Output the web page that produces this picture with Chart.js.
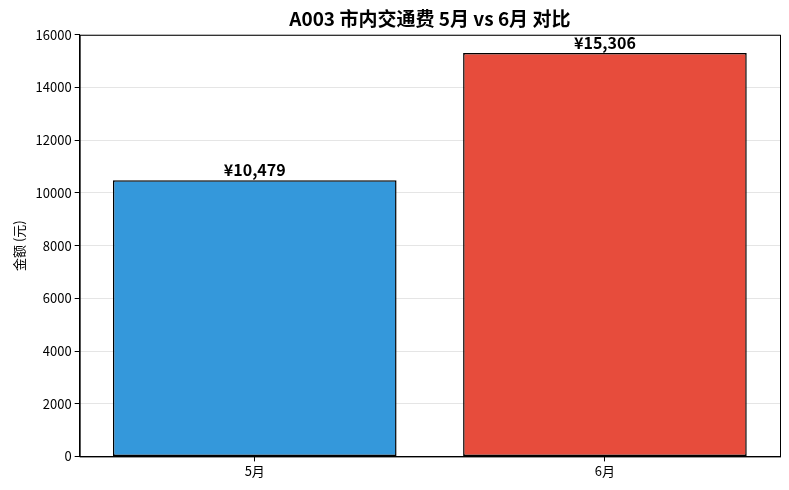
<!DOCTYPE html>
<html>
<head>
<meta charset="utf-8">
<script src="https://cdn.jsdelivr.net/npm/chart.js@4/dist/chart.umd.min.js"></script>
<style>
  html, body { margin: 0; padding: 0; background: #fff; }
  #wrap { width: 789px; height: 490px; }
</style>
</head>
<body>
<div id="wrap"><canvas id="barCanvas"></canvas></div>
<script>
const months = ["5月", "6月"];
const amounts = [10479, 15306];
const barColors = ["#3498db", "#e74c3c"];
const yTicks = [0, 2000, 4000, 6000, 8000, 10000, 12000, 14000, 16000];

const FONT = "'Noto Sans CJK SC', 'Noto Sans', sans-serif";

// value labels above bars + frame around plot area
const extras = {
    id: "extras",
    afterDatasetsDraw(chart) {
        const ctx = chart.ctx;
        const meta = chart.getDatasetMeta(0);
        ctx.save();
        ctx.font = "bold 16px " + FONT;
        ctx.fillStyle = "#000";
        ctx.textAlign = "center";
        ctx.textBaseline = "bottom";
        meta.data.forEach((bar, i) => {
            ctx.fillText("¥" + amounts[i].toLocaleString("en-US"), bar.x, bar.y - 2);
        });
        ctx.restore();
    },
    afterDraw(chart) {
        const a = chart.chartArea;
        const ctx = chart.ctx;
        ctx.save();
        ctx.strokeStyle = "#000";
        ctx.lineWidth = 1;
        ctx.strokeRect(a.left + 0.5, a.top + 0.5, a.right - a.left, a.bottom - a.top);
        ctx.restore();
    }
};

new Chart(document.getElementById("barCanvas"), {
    type: "bar",
    data: {
        labels: months,
        datasets: [{
            data: amounts,
            backgroundColor: barColors,
            borderColor: "#000",
            borderWidth: 1.5,
            borderSkipped: false,
            barPercentage: 0.81,
            categoryPercentage: 1
        }]
    },
    options: {
        responsive: true,
        maintainAspectRatio: false,
        animation: false,
        layout: { padding: { top: 7, right: 9, left: 11, bottom: 9 } },
        plugins: {
            legend: { display: false },
            tooltip: { enabled: false },
            title: {
                display: true,
                fullSize: false,
                text: "A003 市内交通费 5月 vs 6月 对比",
                color: "#000",
                font: { family: FONT, size: 19, weight: "bold" },
                padding: { top: 0, bottom: 5 }
            }
        },
        scales: {
            x: {
                grid: { display: true, offset: false, drawOnChartArea: false, tickColor: "#000", tickLength: 5 },
                border: { color: "#000" },
                ticks: { color: "#000", font: { family: FONT, size: 13 }, padding: 2 }
            },
            y: {
                min: 0,
                max: 16000,
                z: 1,
                afterBuildTicks(scale) {
                    scale.ticks = yTicks.map(v => ({ value: v }));
                },
                grid: {
                    color: "rgba(0,0,0,0.1)",
                    tickColor: "#000",
                    tickLength: 5
                },
                border: { color: "#000" },
                ticks: {
                    color: "#000",
                    font: { family: FONT, size: 13 },
                    padding: 3,
                    callback: v => String(v)
                },
                title: {
                    display: true,
                    text: "金额 (元)",
                    color: "#000",
                    font: { family: FONT, size: 13 },
                    padding: { top: 0, bottom: 6 }
                }
            }
        }
    },
    plugins: [extras]
});
</script>
</body>
</html>
